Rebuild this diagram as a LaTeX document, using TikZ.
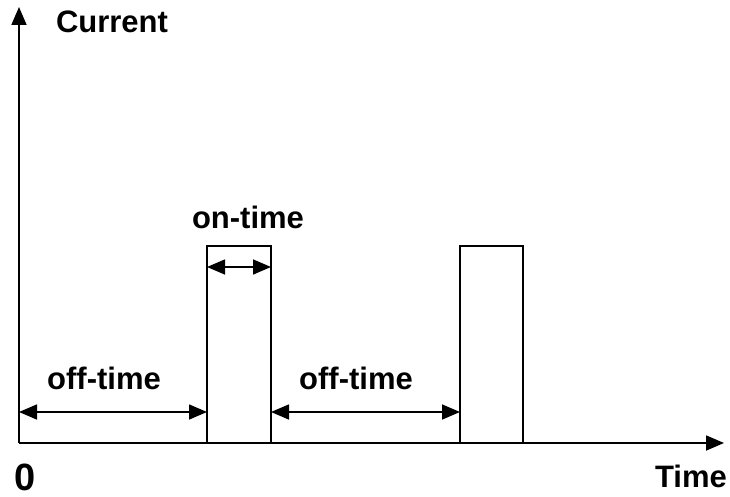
\documentclass[tikz,border=0pt]{standalone}
\usepackage{fontspec}
\setmainfont{Liberation Sans}
\usetikzlibrary{arrows.meta}
\tikzset{
  headtip/.tip={Triangle[length=18pt,width=15pt]},
  axis/.style={line width=1.8pt,-headtip},
  pulse/.style={line width=1.3pt},
  dim/.style={line width=1.6pt,headtip-headtip},
  lbl/.style={font=\fontsize{31}{32}\selectfont\bfseries,inner sep=0pt},
}
\begin{document}
\begin{tikzpicture}[x=1pt,y=-1pt]
\useasboundingbox (0,0) rectangle (730,497);
\coordinate (o) at (19,443);
\coordinate (ytop) at (19,7);
\coordinate (xend) at (724,443);
% pulses
\coordinate (p1bl) at (207,443);
\coordinate (p1tr) at (271,246);
\coordinate (p2bl) at (460,443);
\coordinate (p2tr) at (523,246);
\draw[pulse] (p1bl) |- (p1tr) -- (271,443);
\draw[pulse] (p2bl) |- (p2tr) -- (523,443);
\draw[axis] (o) -- (ytop);
\draw[axis] (o) -- (xend);
% dimension arrows
\coordinate (a1s) at (19,412);
\coordinate (a1e) at (207,412);
\coordinate (a2s) at (271,412);
\coordinate (a2e) at (460,412);
\coordinate (a3s) at (207,267);
\coordinate (a3e) at (271,267);
\draw[dim] (a1s) -- (a1e);
\draw[dim] (a2s) -- (a2e);
\draw[dim] (a3s) -- (a3e);
% labels
\node[lbl] (cur) at (112,22) {Current};
\node[lbl] (on) at (248,217) {on-time};
\node[lbl] (off1) at (104,378) {off-time};
\node[lbl] (off2) at (356,378) {off-time};
\node[lbl] (time) at (691,476) {Time};
\node[font=\fontsize{38}{39}\selectfont\bfseries,inner sep=0pt] (zero) at (25,477) {0};
\end{tikzpicture}
\end{document}
